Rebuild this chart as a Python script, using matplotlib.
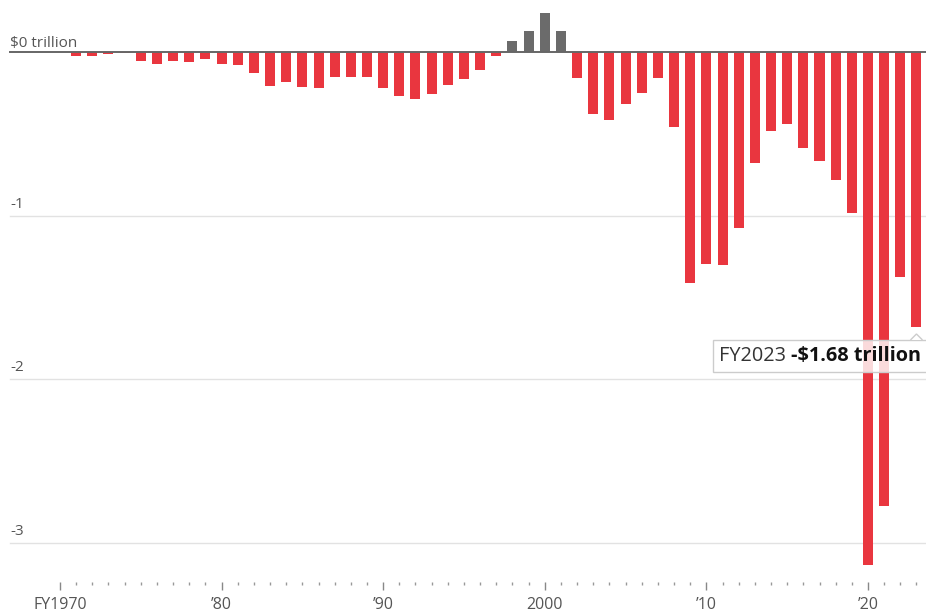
import numpy as np
import matplotlib.pyplot as plt
from matplotlib.patches import Rectangle, Polygon

# federal surplus/deficit, trillions of dollars, FY1970-FY2023
years = list(range(1970, 2024))
balance = [
    -0.003, -0.023, -0.023, -0.015, -0.006, -0.053, -0.074, -0.054, -0.059, -0.041,
    -0.074, -0.079, -0.128, -0.208, -0.185, -0.212, -0.221, -0.150, -0.155, -0.153,
    -0.221, -0.269, -0.290, -0.255, -0.203, -0.164, -0.107, -0.022, 0.069, 0.126,
    0.236, 0.128, -0.158, -0.378, -0.413, -0.318, -0.248, -0.161, -0.459, -1.413,
    -1.294, -1.300, -1.077, -0.680, -0.485, -0.442, -0.585, -0.665, -0.779, -0.984,
    -3.132, -2.775, -1.376, -1.68,
]
tick_years = [1970, 1980, 1990, 2000, 2010, 2020]
tick_labels = ['FY1970', '\u201980', '\u201990', '2000', '\u201910', '\u201920']
y_ticks = [-1, -2, -3]
y_labels = ['-1', '-2', '-3']
tip_year = 'FY2023'
tip_value = '-$1.68 trillion'

RED = '#E9363F'
GRAY_BAR = '#6b6b6b'
TXT = '#555555'

plt.rcParams['font.family'] = ['Open Sans', 'DejaVu Sans']

W, H = 926, 615
fig = plt.figure(figsize=(W / 100, H / 100), dpi=100)
ax = fig.add_axes([0, (H - 582) / H, 1, 582 / H])
ax.set_xlim(1966.29, 2023.59)
ax.set_ylim(-3.238, 0.3177)

x = np.array(years)
y = np.array(balance)
colors = [GRAY_BAR if v > 0 else RED for v in y]
ax.bar(x, y, width=0.62, color=colors, zorder=2)

# gridlines and zero line start a little in from the left edge
x0 = 10 / W
for v in y_ticks:
    ax.axhline(v, xmin=x0, xmax=1, color='#e2e2e2', lw=1, zorder=1)
ax.axhline(0, xmin=x0, xmax=1, color='#666666', lw=1.4, zorder=3)

ax.text(x0, 0.004, '$0 trillion', transform=ax.get_yaxis_transform(),
        fontsize=11, color=TXT, va='bottom', ha='left')
for v, lab in zip(y_ticks, y_labels):
    ax.annotate(lab, (x0, v), xycoords=ax.get_yaxis_transform(),
                xytext=(0, 3), textcoords='offset points',
                fontsize=11, color=TXT, va='bottom', ha='left')

for s in ax.spines.values():
    s.set_visible(False)
ax.set_yticks([])
ax.set_xticks(tick_years)
ax.set_xticklabels(tick_labels, fontsize=11.5, color=TXT)
ax.set_xticks(years, minor=True)
ax.tick_params(axis='x', which='major', length=6, width=1, color='#888888', pad=5)
ax.tick_params(axis='x', which='minor', length=2, width=1, color='#999999', pad=5)

# tooltip for the last year
fig.canvas.draw()
r = fig.canvas.get_renderer()
t_bold = ax.annotate(tip_value, (years[-1], balance[-1]), xytext=(5, -29),
                     textcoords='offset pixels', ha='right', va='center',
                     fontsize=14.3, fontweight='bold', color='#111111', zorder=7)
bb = t_bold.get_window_extent(r)
t_norm = ax.annotate(tip_year + ' ', (years[-1], balance[-1]), xytext=(5 - bb.width, -29),
                     textcoords='offset pixels', ha='right', va='center',
                     fontsize=14.3, color='#333333', zorder=7)
bn = t_norm.get_window_extent(r)
left = bn.x0 - 6
bot = bb.y0 - 6
top = bb.y1 + 6
box = Rectangle((left / W, bot / H), (W + 4 - left) / W, (top - bot) / H,
                transform=fig.transFigure, facecolor=(1, 1, 1, 0.82),
                edgecolor='#cccccc', lw=1, zorder=5, clip_on=False)
ax.add_patch(box)
bx = ax.transData.transform((years[-1], 0))[0]
caret = Polygon([((bx - 6) / W, top / H), (bx / W, (top + 6) / H), ((bx + 6) / W, top / H)],
                closed=False, transform=fig.transFigure, facecolor='white',
                edgecolor='#cccccc', lw=1, zorder=6, clip_on=False)
ax.add_patch(caret)

fig.savefig('out.png', dpi=100)
